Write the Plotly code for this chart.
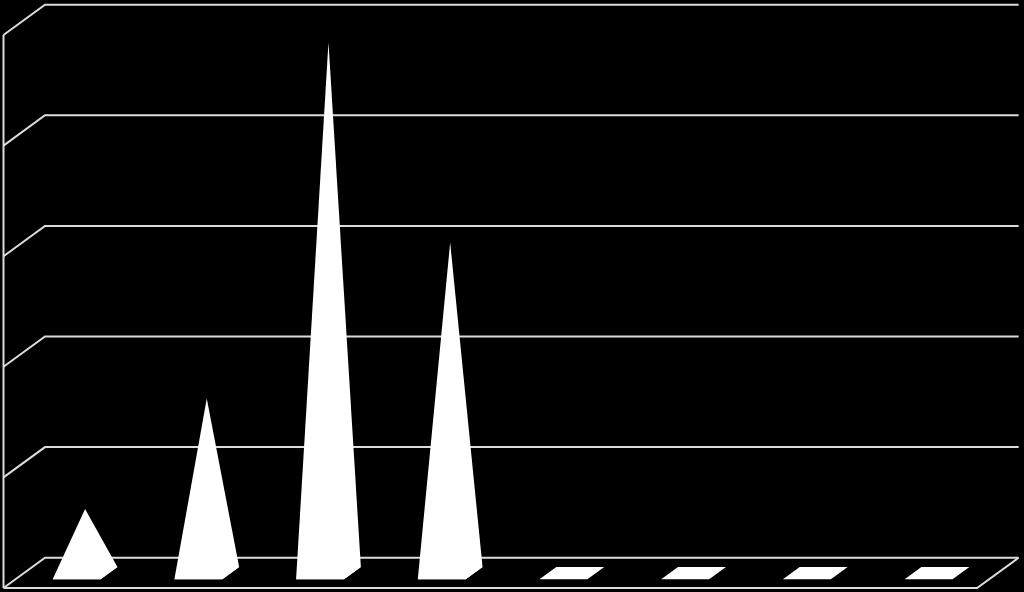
import plotly.graph_objects as go

# values, one per category
categories = [0, 1, 2, 3, 4, 5, 6, 7]
values = [0.58, 1.58, 4.8, 2.99, 0, 0, 0, 0]
grid_values = [0, 1, 2, 3, 4, 5]

# the fake 3d box: how far the back plane is shifted from the front, in axis units
depth_x = 0.341
depth_y = 0.274
bar_center = 0.504
half_width = 0.197
base_front = 0.285
base_back = 0.69

line_color = '#dcdcdc'
n = len(categories)

fig = go.Figure()


def project(x, v, depth):
    return x + depth * depth_x, v + depth * depth_y


def add_line(xs, ys):
    fig.add_trace(go.Scatter(x=xs, y=ys, mode='lines', line=dict(color=line_color, width=2),
                             hoverinfo='skip', showlegend=False))


def add_shape(points):
    fig.add_trace(go.Scatter(x=[p[0] for p in points], y=[p[1] for p in points], mode='lines',
                             fill='toself', fillcolor='white', line=dict(color='white', width=0),
                             hoverinfo='skip', showlegend=False))


# walls and floor
for g in grid_values:
    front = project(0, g, 0)
    back = project(0, g, 1)
    end = project(n, g, 1)
    add_line([front[0], back[0], end[0]], [front[1], back[1], end[1]])
add_line([0, 0], [grid_values[0], grid_values[-1]])
floor_right = project(n, 0, 1)
add_line([0, n, floor_right[0]], [0, 0, floor_right[1]])

# pyramids: base first, then the visible outline up to the apex
for c, v in zip(categories, values):
    left = c + bar_center - half_width
    right = c + bar_center + half_width
    fl = project(left, 0, base_front)
    fr = project(right, 0, base_front)
    bl = project(left, 0, base_back)
    br = project(right, 0, base_back)
    add_shape([fl, bl, br, fr, fl])
    if v > 0:
        apex = project(c + bar_center, v, (base_front + base_back) / 2)
        add_shape([fl, apex, br, fr, fl])

fig.update_layout(
    width=1024, height=592,
    margin=dict(l=0, r=0, t=0, b=0),
    paper_bgcolor='black',
    plot_bgcolor='black',
    showlegend=False,
    xaxis=dict(range=[-3.5 / 121.7, 1020.5 / 121.7], visible=False, fixedrange=True),
    yaxis=dict(range=[-4 / 110.6, 588 / 110.6], visible=False, fixedrange=True),
)
# the page's default body margin would push the plot 8px in
fig.write_html("out.html", config=dict(displayModeBar=False),
               post_script="document.body.style.margin='0';document.body.style.overflow='hidden';document.body.style.background='black';")
